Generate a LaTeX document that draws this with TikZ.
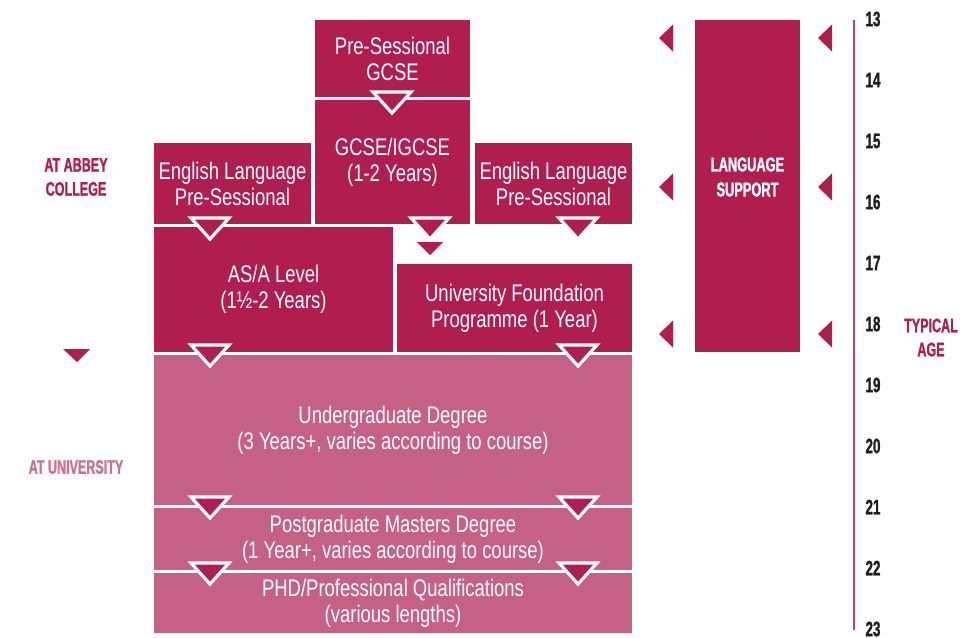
\documentclass[tikz,border=0pt]{standalone}
\usepackage{fontspec}
\newfontfamily\bodyfont[FakeStretch=0.77]{Liberation Sans}
\newfontfamily\labelfont[FakeStretch=0.64, FakeBold=1.2]{Liberation Sans}
\definecolor{abbeydark}{RGB}{176,30,80}
\definecolor{abbeylight}{RGB}{198,97,134}
\definecolor{unilabel}{RGB}{206,112,146}
\definecolor{agetext}{RGB}{30,30,30}
\tikzset{
  block/.style={fill=abbeydark, inner sep=0pt, align=center, text=white,
    font=\bodyfont\fontsize{12pt}{13pt}\selectfont},
  uniblock/.style={block, fill=abbeylight},
  sidelabel/.style={align=center, text=abbeydark,
    font=\labelfont\bfseries\fontsize{9.8pt}{12pt}\selectfont},
  agelabel/.style={text=agetext, font=\labelfont\bfseries\fontsize{10.5pt}{12pt}\selectfont},
  droptri/.style={fill=abbeydark, draw=white, line width=1.6pt, line join=miter},
  marker/.style={fill=abbeydark}
}
\begin{document}
\begin{tikzpicture}[x=0.5pt, y=-0.5pt]
  \useasboundingbox (0,0) rectangle (976,638);
  % abbey college blocks
  \node[block, minimum width=77.5pt, minimum height=38.5pt] (psg) at (392.5,58.5) {Pre-Sessional\\GCSE};
  \node[block, minimum width=77.5pt, minimum height=62pt] (gcse) at (392.5,162) {GCSE/IGCSE\\(1-2 Years)};
  \node[block, minimum width=78.5pt, minimum height=40.5pt] (elpl) at (232.5,183.5) {English Language\\Pre-Sessional};
  \node[block, minimum width=78.5pt, minimum height=40.5pt] (elpr) at (553.5,183.5) {English Language\\Pre-Sessional};
  \node[block, minimum width=119.5pt, minimum height=62.5pt] (asa) at (273.5,289.5) {AS/A Level\\(1½-2 Years)};
  \node[block, minimum width=117.5pt, minimum height=44pt] (ufp) at (514.5,308) {University Foundation\\Programme (1 Year)};
  % university blocks
  \node[uniblock, minimum width=239pt, minimum height=75pt] (ug) at (393,430) {Undergraduate Degree\\(3 Years+, varies according to course)};
  \node[uniblock, minimum width=239pt, minimum height=31pt] (pg) at (393,539) {Postgraduate Masters Degree\\(1 Year+, varies according to course)};
  \node[uniblock, minimum width=239pt, minimum height=30pt] (phd) at (393,603) {PHD/Professional Qualifications\\(various lengths)};
  % language support
  \node[block, minimum width=52.5pt, minimum height=166pt] (lang) at (747.5,186) {};
  \node[text=white, align=center, font=\labelfont\bfseries\fontsize{10pt}{12.5pt}\selectfont] (langtext) at (747.5,177) {LANGUAGE\\SUPPORT};
  % side labels
  \node[sidelabel] (abbey) at (76,177) {AT ABBEY\\COLLEGE};
  \node[sidelabel, text=unilabel] (uni) at (76,467) {AT UNIVERSITY};
  \node[sidelabel] (typical) at (931,337.5) {TYPICAL\\AGE};
  % drop triangles
  \foreach \cx/\ty in {392/92, 210/218, 430/218, 578/218, 210/345, 578/345, 210/497, 578/497, 210/563, 578/563}
    \draw[droptri] (\cx-19,\ty) -- (\cx+19,\ty) -- (\cx,\ty+21) -- cycle;
  \fill[marker] (417,242) -- (443,242) -- (430,255) -- cycle;
  \fill[marker] (63,349) -- (90,349) -- (77,362) -- cycle;
  % language support pointers
  \foreach \ty in {38,187,334} {
    \fill[marker] (673,\ty-13.5) -- (673,\ty+13.5) -- (659,\ty) -- cycle;
    \fill[marker] (832,\ty-13.5) -- (832,\ty+13.5) -- (818,\ty) -- cycle;
  }
  % age axis
  \draw[abbeydark!85!white, line width=1pt] (854,20) -- (854,630);
  \foreach \a in {13,...,23}
    \node[agelabel] (age\a) at (873,19+61*\a-793) {\a};
\end{tikzpicture}
\end{document}
